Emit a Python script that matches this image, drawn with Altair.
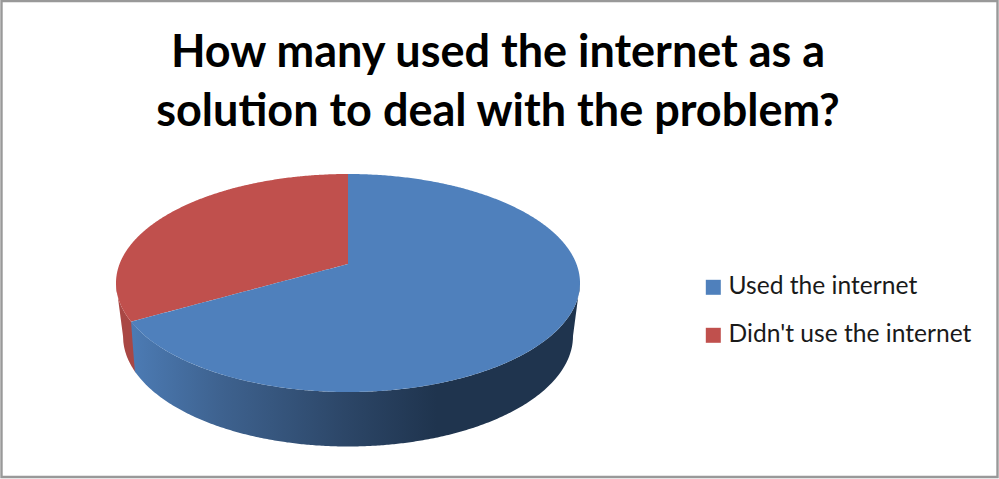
import numpy as np
import pandas as pd
import altair as alt

# Chart values
categories = ["Used the internet", "Didn't use the internet"]
shares = [66.7, 33.3]
title_lines = ["How many used the internet as a", "solution to deal with the problem?"]
top_colors = ["#4f80bc", "#c0504d"]
wall_red = "#a94744"
wall_stops = [
    (0.0, "#4c7bb4"), (0.2, "#3e628f"), (0.48, "#2c4667"),
    (0.68, "#1f344e"), (1.0, "#1f344e"),
]

# Tilted-pie geometry on a 999x479 canvas
CX, RX = 348.0, 232.0          # rim centre and half width
RIM_TOP, RIM_BOTTOM = 174.0, 392.0
APEX_Y = 264.0                 # where the slices meet, shifted by perspective
BASE_CY, BASE_RX, BASE_RY = 336.0, 225.0, 110.5
RIM_CY = (RIM_TOP + RIM_BOTTOM) / 2
RIM_RY = (RIM_BOTTOM - RIM_TOP) / 2


def project(angle):
    """Map an angle on the pie (clockwise from the top) through the perspective."""
    u, v = np.sin(angle), np.cos(angle)
    k = (RIM_BOTTOM + RIM_TOP - 2 * APEX_Y) / (RIM_BOTTOM - RIM_TOP)
    b = RIM_TOP * (1 + k) - APEX_Y
    a = RX * np.sqrt(1 - k * k)
    w = 1 + k * v
    return CX + a * u / w, (APEX_Y + b * v) / w


def rim_upper(x):
    return RIM_CY - RIM_RY * np.sqrt(np.clip(1 - ((x - CX) / RX) ** 2, 0, 1))


def rim_lower(x):
    return RIM_CY + RIM_RY * np.sqrt(np.clip(1 - ((x - CX) / RX) ** 2, 0, 1))


def base_lower(x):
    dx = np.abs(x - CX)
    inner = BASE_CY + BASE_RY * np.sqrt(np.clip(1 - (dx / BASE_RX) ** 2, 0, 1))
    outer = RIM_CY + (BASE_CY - RIM_CY) * (RX - dx) / (RX - BASE_RX)
    return np.where(dx <= BASE_RX, inner, outer)


split_x, split_y = project(2 * np.pi * shares[0] / sum(shares))


def chord(x):
    return split_y + (APEX_Y - split_y) * (x - split_x) / (CX - split_x)


edge = CX - RX
right = CX + RX
# Sample positions that crowd towards the ends of the rim, where it curves fastest
spread = np.linspace(0, 1, 240) ** 2.2

# Blue slice: chord then far rim above, near rim below
xb_left = np.linspace(split_x, CX, 60)
xb_right = np.unique(np.concatenate([[CX + 0.01], right - (right - CX - 0.01) * spread]))
blue = pd.DataFrame({
    "x": np.concatenate([xb_left, xb_right]),
    "y": np.concatenate([chord(xb_left), rim_upper(xb_right)]),
    "y2": np.concatenate([rim_lower(xb_left), rim_lower(xb_right)]),
    "slice": categories[0],
})

# Red slice: far rim above, near rim then chord below
xr = np.unique(np.concatenate([
    edge + (CX - edge) * spread, [split_x], np.linspace(split_x, CX, 60),
]))
red = pd.DataFrame({
    "x": xr,
    "y": rim_upper(xr),
    "y2": np.where(xr < split_x, rim_lower(xr), chord(xr)),
    "slice": categories[1],
})
faces = pd.concat([red, blue], ignore_index=True)

# Side walls
wall_join = split_x + 3.8
xw_red = np.unique(np.concatenate([
    edge + (wall_join + 1 - edge) * np.linspace(0, 1, 60) ** 1.8, [CX - BASE_RX],
]))
wall_r = pd.DataFrame({"x": xw_red, "y": rim_lower(xw_red), "y2": base_lower(xw_red)})

xw_blue = np.unique(np.concatenate([
    np.linspace(split_x, wall_join, 6),
    np.linspace(wall_join, right - 12, 240),
    np.linspace(right - 12, right, 40),
    [CX + BASE_RX],
]))
ramp = (xw_blue - split_x) / (wall_join - split_x)
y2_blue = np.where(
    xw_blue < wall_join,
    rim_lower(xw_blue) + (base_lower(np.array([wall_join]))[0] - rim_lower(xw_blue)) * ramp,
    base_lower(xw_blue),
)
wall_b = pd.DataFrame({"x": xw_blue, "y": rim_lower(xw_blue), "y2": y2_blue})

x_enc = alt.X("x:Q", axis=None, scale=alt.Scale(domain=[0, 999], nice=False, zero=False))
y_enc = alt.Y("y:Q", axis=None, scale=alt.Scale(domain=[479, 0], nice=False, zero=False))

frame = alt.Chart(pd.DataFrame({"x": [1.5], "x2": [997.5], "y": [1.0], "y2": [477.0]})).mark_rect(
    fill="white", stroke="#999999", strokeWidth=2.4
).encode(x=x_enc, x2="x2:Q", y=y_enc, y2="y2:Q")

red_wall = alt.Chart(wall_r).mark_area(color=wall_red, interpolate="linear").encode(
    x=x_enc, y=y_enc, y2="y2:Q"
)

blue_wall = alt.Chart(wall_b).mark_area(
    interpolate="linear",
    color=alt.Gradient(
        gradient="linear", x1=0, x2=1, y1=0, y2=0,
        stops=[alt.GradientStop(offset=o, color=c) for o, c in wall_stops],
    ),
).encode(x=x_enc, y=y_enc, y2="y2:Q")

top = alt.Chart(faces).mark_area(interpolate="linear").encode(
    x=x_enc,
    y=y_enc,
    y2="y2:Q",
    color=alt.Color(
        "slice:N",
        scale=alt.Scale(domain=categories, range=top_colors),
        legend=alt.Legend(
            title=None,
            orient="none",
            legendX=701,
            legendY=275,
            symbolType="square",
            symbolSize=225,
            symbolStrokeWidth=0,
            labelFont="Lato",
            labelFontSize=24.6,
            labelColor="#1a1a1a",
            labelOffset=3,
            rowPadding=23,
            labelLimit=320,
        ),
    ),
)

chart = (
    alt.layer(frame, red_wall, blue_wall, top)
    .properties(
        width=999,
        height=479,
        padding=0,
        autosize=alt.AutoSizeParams(type="none"),
        background="white",
        title=alt.TitleParams(
            text=title_lines,
            font="Lato",
            fontSize=45,
            fontWeight="bold",
            color="black",
            lineHeight=59,
            anchor="start",
            align="center",
            frame="group",
            dx=498,
            dy=139,
        ),
    )
    .configure_view(stroke=None)
)

chart.save("out.html", embed_options={"renderer": "svg", "actions": False})
